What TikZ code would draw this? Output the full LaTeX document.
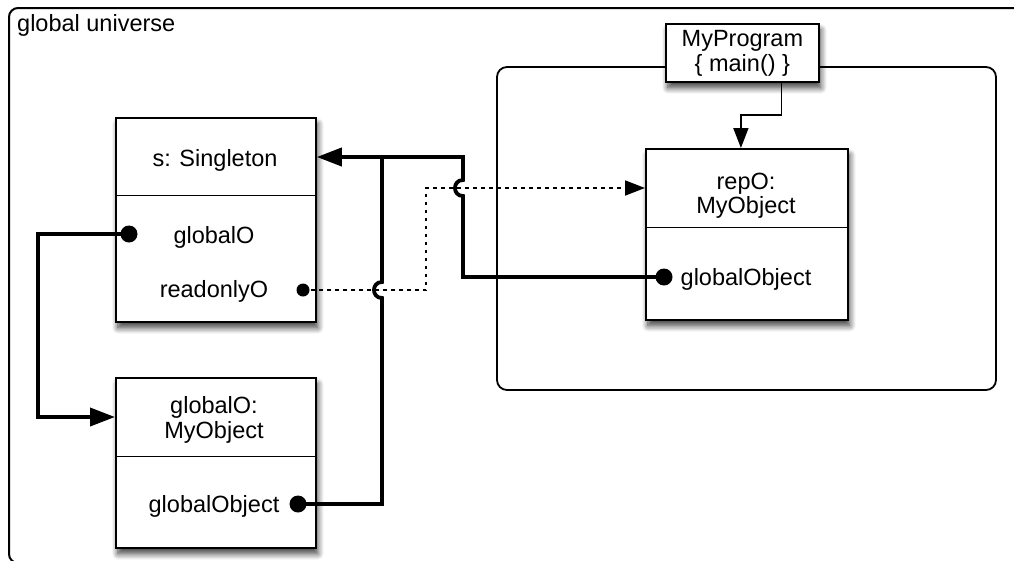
\documentclass[tikz,border=0pt]{standalone}
\usepackage{fontspec}
\setmainfont{Liberation Sans}
\usetikzlibrary{arrows.meta,shadows.blur}
\begin{document}
\begin{tikzpicture}[x=1pt,y=-1pt,
  txt/.style={font=\fontsize{23.5}{25}\selectfont, inner sep=0pt, anchor=base},
  objbox/.style={draw, line width=1.8pt, fill=white, inner sep=0pt, anchor=north west,
    blur shadow={shadow xshift=2pt, shadow yshift=-6pt, shadow blur radius=6pt,
      shadow blur steps=10, shadow opacity=75}},
  divider/.style={line width=0.8pt},
  frame/.style={line width=2pt, rounded corners=9pt},
  ref/.style={line width=3.8pt, line join=miter},
  bigtip/.style={-{Triangle[length=25pt,width=18pt]}},
  smalltip/.style={-{Triangle[length=20pt,width=15pt]}},
  dotref/.style={line width=1.8pt, dash pattern=on 3.5pt off 4.5pt},
  pin/.style={circle, fill=black, inner sep=0pt, minimum size=17pt},
  smallpin/.style={circle, fill=black, inner sep=0pt, minimum size=13pt},
]
\useasboundingbox (0,0) rectangle (1014,560);
\clip (0,0) rectangle (1014,560);

% enclosing frames
\draw[frame] (9,8) rectangle (1060,563);
\node[txt, anchor=base west] (title) at (17,31) {global universe};
\draw[frame, line width=1.8pt, rounded corners=10pt] (497,67) rectangle (996,390);

% object boxes
\node[objbox, minimum width=200pt, minimum height=204pt] (sing) at (115,117) {};
\draw[divider] ([yshift=-78pt]sing.north west) -- ([yshift=-78pt]sing.north east);
\node[txt] (tSing) at (215,166) {s: Singleton};
\node[txt] (tGO) at (214,243) {globalO};
\node[txt] (tRO) at (214,297) {readonlyO};

\node[objbox, minimum width=200pt, minimum height=170pt] (gobj) at (115,377) {};
\draw[divider] ([yshift=-79pt]gobj.north west) -- ([yshift=-79pt]gobj.north east);
\node[txt] (tGO1) at (214,413) {globalO:};
\node[txt] (tGO2) at (214,438) {MyObject};
\node[txt] (tGObj) at (214,512) {globalObject};

\node[objbox, minimum width=202pt, minimum height=171pt] (repo) at (645,148) {};
\draw[divider] ([yshift=-79pt]repo.north west) -- ([yshift=-79pt]repo.north east);
\node[txt] (tR1) at (746,189) {repO:};
\node[txt] (tR2) at (746,213) {MyObject};
\node[txt] (tRG) at (746,285) {globalObject};

\node[objbox, minimum width=153pt, minimum height=58pt, align=center,
  font=\fontsize{23.5}{25}\selectfont] (prog) at (665,23) {MyProgram\\\{ main() \}};

% attachment points
\coordinate (singIn) at ([yshift=-40pt]sing.north east);
\coordinate (gobjIn) at ([yshift=-40pt]gobj.north west);
\coordinate (repIn) at ([yshift=-40pt]repo.north west);
\coordinate (progOut) at ([xshift=39pt]prog.south);
\coordinate (repTop) at ([xshift=-6pt]repo.north);
\coordinate (junc) at (382,157);

% reference dots
\node[pin] (dGO) at (129,234) {};
\node[smallpin] (dRO) at (303,290) {};
\node[pin] (dGObj) at (298,504) {};
\node[pin] (dRepG) at (664,277) {};

% references
\draw[ref, bigtip] (dGO.center) -- ++(-91,0) |- (gobjIn);
\draw[ref] (dGObj.center) -- ++(84,0) -- (382,298)
  .. controls (371.3,298) and (371.3,282) .. (382,282) -- (junc);
\draw[ref, bigtip] (dRepG.center) -- (463,277) -- (463,196)
  .. controls (452.3,196) and (452.3,180) .. (463,180) -- (463,157) -- (singIn);
\draw[dotref, smalltip] (dRO.center) -- (426,290) -- (426,188) -- (repIn);
\draw[line width=1.8pt, smalltip] (progOut) -- ++(0,32) -| (repTop);
\end{tikzpicture}
\end{document}
